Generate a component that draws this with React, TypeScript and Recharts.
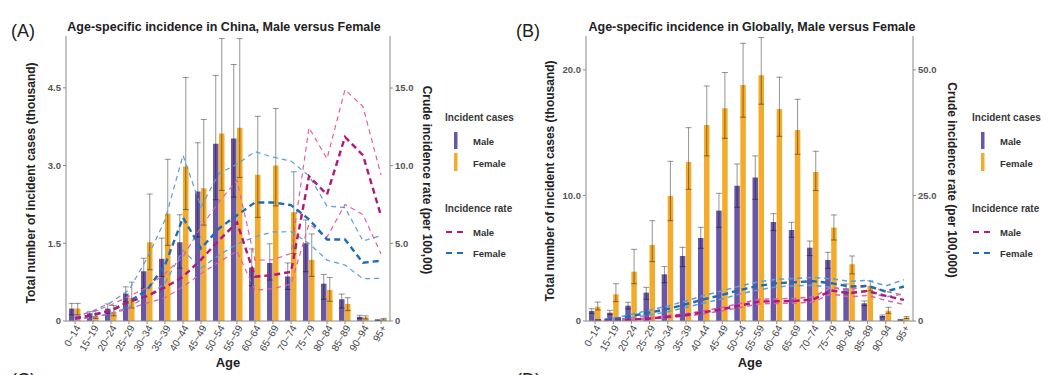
import React from 'react';
import { ComposedChart, Bar, Line, XAxis, YAxis, ErrorBar } from 'recharts';

const ages = ['0~14', '15~19', '20~24', '25~29', '30~34', '35~39', '40~44', '45~49', '50~54', '55~59', '60~64', '65~69', '70~74', '75~79', '80~84', '85~89', '90~94', '95+'];

// China, incident cases (thousand)
const cnMaleCases = [0.24, 0.15, 0.24, 0.53, 0.96, 1.2, 1.52, 2.5, 3.42, 3.52, 1.03, 1.12, 0.86, 1.5, 0.72, 0.42, 0.08, 0.02];
const cnMaleLow = [0.12, 0.08, 0.15, 0.37, 0.63, 0.86, 1.02, 1.62, 2.34, 2.39, 0.68, 0.79, 0.61, 0.95, 0.42, 0.25, 0.05, 0.01];
const cnMaleHigh = [0.34, 0.18, 0.33, 0.66, 1.21, 1.6, 2.05, 3.44, 4.74, 4.95, 1.39, 1.49, 1.12, 1.95, 0.9, 0.52, 0.11, 0.03];
const cnFemaleCases = [0.24, 0.1, 0.18, 0.45, 1.52, 2.07, 2.98, 2.56, 3.62, 3.73, 2.82, 3.0, 2.1, 1.18, 0.6, 0.33, 0.07, 0.03];
const cnFemaleLow = [0.12, 0.05, 0.1, 0.25, 0.99, 1.46, 2.15, 1.85, 2.52, 2.77, 2.0, 2.22, 1.3, 0.86, 0.38, 0.2, 0.04, 0.02];
const cnFemaleHigh = [0.34, 0.2, 0.3, 0.75, 2.45, 3.12, 4.7, 3.89, 5.45, 5.45, 3.95, 4.1, 2.88, 1.68, 0.84, 0.45, 0.1, 0.05];

// China, crude incidence rate (per 100,000)
const cnMaleRate = [0.17, 0.39, 0.66, 1.24, 1.6, 2.16, 2.85, 3.95, 5.2, 6.35, 2.85, 2.96, 3.17, 9.32, 8.14, 11.85, 10.67, 6.78];
const cnMaleRateLow = [0.1, 0.25, 0.45, 0.8, 1.15, 1.5, 2.2, 3.05, 3.8, 4.5, 1.98, 2.08, 2.38, 6.25, 5.4, 7.5, 6.85, 4.32];
const cnMaleRateHigh = [0.28, 0.6, 1.03, 1.6, 2.16, 3.06, 4.14, 6.06, 7.67, 9.06, 3.9, 3.95, 4.35, 12.45, 10.45, 14.9, 13.8, 9.4];
const cnFemaleRate = [0.17, 0.39, 0.7, 1.24, 1.99, 3.6, 6.65, 4.67, 5.96, 6.81, 7.63, 7.63, 7.46, 6.55, 5.25, 5.25, 3.75, 3.88];
const cnFemaleRateLow = [0.1, 0.25, 0.5, 0.9, 1.6, 2.42, 4.56, 3.39, 4.24, 4.95, 5.42, 5.74, 5.75, 4.99, 3.92, 3.6, 2.72, 2.75];
const cnFemaleRateHigh = [0.3, 0.65, 1.2, 2.0, 4.03, 6.5, 10.67, 7.35, 9.5, 10.1, 10.9, 10.55, 10.3, 9.35, 7.4, 7.3, 5.15, 5.5];

// Global, incident cases (thousand)
const glMaleCases = [0.8, 0.66, 1.22, 2.26, 3.72, 5.18, 6.61, 8.79, 10.78, 11.42, 7.89, 7.25, 5.84, 4.86, 2.6, 1.41, 0.4, 0.1];
const glMaleLow = [0.61, 0.53, 0.96, 1.73, 3.05, 4.33, 5.79, 7.46, 9.06, 9.69, 7.2, 6.67, 5.21, 4.2, 2.25, 1.22, 0.32, 0.07];
const glMaleHigh = [0.98, 0.85, 1.49, 2.68, 4.33, 5.87, 7.46, 10.17, 12.51, 13.15, 8.55, 7.86, 6.37, 5.47, 2.95, 1.6, 0.48, 0.13];
const glFemaleCases = [1.14, 2.12, 3.93, 6.06, 9.96, 12.67, 15.62, 16.95, 18.8, 19.57, 16.89, 15.22, 11.87, 7.44, 4.52, 2.8, 0.82, 0.27];
const glFemaleLow = [0.88, 1.54, 2.97, 4.73, 7.99, 10.49, 13.15, 14.55, 16.23, 17.27, 14.71, 13.28, 10.39, 6.45, 3.75, 2.4, 0.61, 0.2];
const glFemaleHigh = [1.51, 2.97, 5.71, 7.99, 12.72, 15.4, 18.72, 19.79, 22.12, 22.58, 19.42, 17.66, 13.52, 8.45, 5.18, 3.2, 1.09, 0.35];

// Global, crude incidence rate (per 100,000)
const glMaleRate = [0.02, 0.07, 0.27, 0.5, 0.85, 1.2, 1.75, 2.35, 3.1, 3.85, 3.93, 4.0, 4.27, 6.07, 5.53, 6.0, 5.0, 4.2];
const glMaleRateLow = [0.0, 0.03, 0.18, 0.35, 0.65, 0.95, 1.45, 2.0, 2.7, 3.4, 3.5, 3.55, 3.8, 5.4, 4.8, 5.1, 4.1, 3.3];
const glMaleRateHigh = [0.05, 0.12, 0.36, 0.65, 1.05, 1.45, 2.05, 2.7, 3.5, 4.3, 4.4, 4.5, 4.8, 6.7, 6.3, 6.9, 5.9, 5.1];
const glFemaleRate = [0.1, 0.33, 1.0, 1.67, 2.4, 3.33, 4.33, 5.2, 6.2, 7.0, 7.53, 7.73, 7.93, 7.53, 6.87, 7.0, 5.87, 6.87];
const glFemaleRateLow = [0.05, 0.2, 0.7, 1.2, 1.85, 2.7, 3.6, 4.4, 5.4, 6.2, 6.8, 7.0, 7.1, 6.7, 5.9, 5.8, 4.8, 5.4];
const glFemaleRateHigh = [0.18, 0.5, 1.35, 2.15, 3.0, 4.0, 5.1, 6.0, 7.0, 7.8, 8.3, 8.5, 8.7, 8.4, 7.9, 8.1, 7.0, 8.2];

const FONT = '"Liberation Sans", Arial, sans-serif';
const PURPLE = '#6a56a6';
const ORANGE = '#f4ab2a';
const MALE = '#b0187c';
const MALE_LT = '#e060a8';
const FEMALE = '#1d6db4';
const FEMALE_LT = '#5a9fdc';
const AX = '#8a8a8a';

function buildRows(
  mC: number[], mL: number[], mH: number[],
  fC: number[], fL: number[], fH: number[],
  mR: number[], mRL: number[], mRH: number[],
  fR: number[], fRL: number[], fRH: number[]
) {
  return ages.map((age, i) => ({
    age,
    mCases: mC[i],
    mErr: [mC[i] - mL[i], mH[i] - mC[i]],
    fCases: fC[i],
    fErr: [fC[i] - fL[i], fH[i] - fC[i]],
    mRate: mR[i], mRateLo: mRL[i], mRateHi: mRH[i],
    fRate: fR[i], fRateLo: fRL[i], fRateHi: fRH[i],
  }));
}

const rowsChina = buildRows(cnMaleCases, cnMaleLow, cnMaleHigh, cnFemaleCases, cnFemaleLow, cnFemaleHigh,
  cnMaleRate, cnMaleRateLow, cnMaleRateHigh, cnFemaleRate, cnFemaleRateLow, cnFemaleRateHigh);
const rowsGlobal = buildRows(glMaleCases, glMaleLow, glMaleHigh, glFemaleCases, glFemaleLow, glFemaleHigh,
  glMaleRate, glMaleRateLow, glMaleRateHigh, glFemaleRate, glFemaleRateLow, glFemaleRateHigh);

const fmt = (v: number) => (v === 0 ? '0' : v.toFixed(1));

const AgeTick = (props: any) => {
  const { x, y, payload } = props;
  return (
    <g transform={`translate(${x + 3},${y})`}>
      <text x={0} y={0} dy="0.35em" textAnchor="end" transform="rotate(-60)" fontSize={10} fill="#444" fontFamily={FONT}>
        {payload.value}
      </text>
    </g>
  );
};

const tickStyle = { fontSize: 9.5, fill: '#555', fontWeight: 'bold' as const, fontFamily: FONT };

type PanelProps = {
  left: number;
  width: number;
  rows: any[];
  plotLeft: number;
  plotRight: number;
  leftMax: number;
  leftTicks: number[];
  rightMax: number;
  rightTicks: number[];
  thinW: number;
};

function Panel({ left, width, rows, plotLeft, plotRight, leftMax, leftTicks, rightMax, rightTicks, thinW }: PanelProps) {
  return (
    <div style={{ position: 'absolute', left, top: 0 }}>
      <ComposedChart width={width} height={375} data={rows} margin={{ top: 36, right: 0, bottom: 0, left: 0 }} barGap={0.5} barSize={5.5}>
        <XAxis dataKey="age" interval={0} height={54} tick={AgeTick} tickSize={3} axisLine={{ stroke: AX }} tickLine={{ stroke: AX }} />
        <YAxis yAxisId="left" width={plotLeft} domain={[0, leftMax]} ticks={leftTicks} allowDataOverflow tickFormatter={fmt}
          tickSize={3} axisLine={{ stroke: AX }} tickLine={{ stroke: AX }} tick={tickStyle} />
        <YAxis yAxisId="right" orientation="right" width={width - plotRight} domain={[0, rightMax]} ticks={rightTicks} allowDataOverflow
          tickFormatter={fmt} tickSize={3} axisLine={{ stroke: AX }} tickLine={{ stroke: AX }} tick={tickStyle} />
        <Bar yAxisId="left" dataKey="mCases" fill={PURPLE} isAnimationActive={false}>
          <ErrorBar dataKey="mErr" width={3} stroke="rgba(0,0,0,0.42)" strokeWidth={1} direction="y" />
        </Bar>
        <Bar yAxisId="left" dataKey="fCases" fill={ORANGE} isAnimationActive={false}>
          <ErrorBar dataKey="fErr" width={3} stroke="rgba(0,0,0,0.42)" strokeWidth={1} direction="y" />
        </Bar>
        <Line yAxisId="right" dataKey="fRateHi" stroke={FEMALE_LT} strokeWidth={thinW} strokeDasharray="5 4" dot={false} isAnimationActive={false} />
        <Line yAxisId="right" dataKey="fRateLo" stroke={FEMALE_LT} strokeWidth={thinW} strokeDasharray="5 4" dot={false} isAnimationActive={false} />
        <Line yAxisId="right" dataKey="mRateHi" stroke={MALE_LT} strokeWidth={thinW} strokeDasharray="5 4" dot={false} isAnimationActive={false} />
        <Line yAxisId="right" dataKey="mRateLo" stroke={MALE_LT} strokeWidth={thinW} strokeDasharray="5 4" dot={false} isAnimationActive={false} />
        <Line yAxisId="right" dataKey="fRate" stroke={FEMALE} strokeWidth={2.4} strokeDasharray="6 4" dot={false} isAnimationActive={false} />
        <Line yAxisId="right" dataKey="mRate" stroke={MALE} strokeWidth={2.4} strokeDasharray="6 4" dot={false} isAnimationActive={false} />
      </ComposedChart>
    </div>
  );
}

function LegendBlock({ x }: { x: number }) {
  const lbl = { fontSize: 9.5, fontWeight: 'bold' as const, fill: '#333', fontFamily: FONT };
  const ttl = { fontSize: 10, fontWeight: 'bold' as const, fill: '#3a3a3a', fontFamily: FONT };
  return (
    <g>
      <text x={x} y={121} {...ttl}>Incident cases</text>
      <rect x={x + 9} y={132} width={3.5} height={17} fill={PURPLE} />
      <text x={x + 28} y={145} {...lbl}>Male</text>
      <rect x={x + 9} y={153} width={3.5} height={18} fill={ORANGE} />
      <text x={x + 28} y={167} {...lbl}>Female</text>
      <text x={x} y={212} {...ttl}>Incidence rate</text>
      <line x1={x + 1} x2={x + 18} y1={232} y2={232} stroke={MALE} strokeWidth={2} strokeDasharray="6 5" />
      <text x={x + 28} y={236} {...lbl}>Male</text>
      <line x1={x + 1} x2={x + 18} y1={253} y2={253} stroke={FEMALE} strokeWidth={2} strokeDasharray="6 5" />
      <text x={x + 28} y={257} {...lbl}>Female</text>
    </g>
  );
}

export default function App() {
  const axisTitle = { fontSize: 12, fontWeight: 'bold' as const, fill: '#222', fontFamily: FONT, textAnchor: 'middle' as const };
  const title = { fontSize: 12.5, fontWeight: 'bold' as const, fill: '#222', fontFamily: FONT, textAnchor: 'middle' as const };
  const tag = { fontSize: 18, fill: '#222', fontFamily: FONT };
  return (
    <div style={{ position: 'absolute', left: 0, top: 0, width: 1054, height: 375, background: '#fff', overflow: 'hidden', fontFamily: FONT }}>
      <Panel left={0} width={520} rows={rowsChina} plotLeft={66} plotRight={390}
        leftMax={5.5} leftTicks={[0, 1.5, 3.0, 4.5]} rightMax={18.35} rightTicks={[0, 5, 10, 15]} thinW={1.2} />
      <Panel left={520} width={534} rows={rowsGlobal} plotLeft={66} plotRight={393}
        leftMax={22.7} leftTicks={[0, 10, 20]} rightMax={56.75} rightTicks={[0, 25, 50]} thinW={1.5} />
      <svg width={1054} height={375} style={{ position: 'absolute', left: 0, top: 0, pointerEvents: 'none' }}>
        <text x={11} y={37} {...tag}>(A)</text>
        <text x={224} y={31} {...title}>Age-specific incidence in China, Male versus Female</text>
        <text transform="translate(35,183) rotate(-90)" {...axisTitle}>Total number of incident cases (thousand)</text>
        <text transform="translate(423,180) rotate(90)" {...axisTitle}>Crude incidence rate (per 100,00)</text>
        <text x={228} y={367} {...axisTitle} fontSize={13}>Age</text>
        <LegendBlock x={445} />

        <text x={516} y={37} {...tag}>(B)</text>
        <text x={752} y={31} {...title}>Age-specific incidence in Globally, Male versus Female</text>
        <text transform="translate(554,181) rotate(-90)" {...axisTitle}>Total number of incident cases (thousand)</text>
        <text transform="translate(948,180) rotate(90)" {...axisTitle}>Crude incidence rate (per 100,000)</text>
        <text x={750} y={367} {...axisTitle} fontSize={13}>Age</text>
        <LegendBlock x={972} />

        <text x={11} y={386} {...tag}>(C)</text>
        <text x={516} y={386} {...tag}>(D)</text>
      </svg>
    </div>
  );
}
